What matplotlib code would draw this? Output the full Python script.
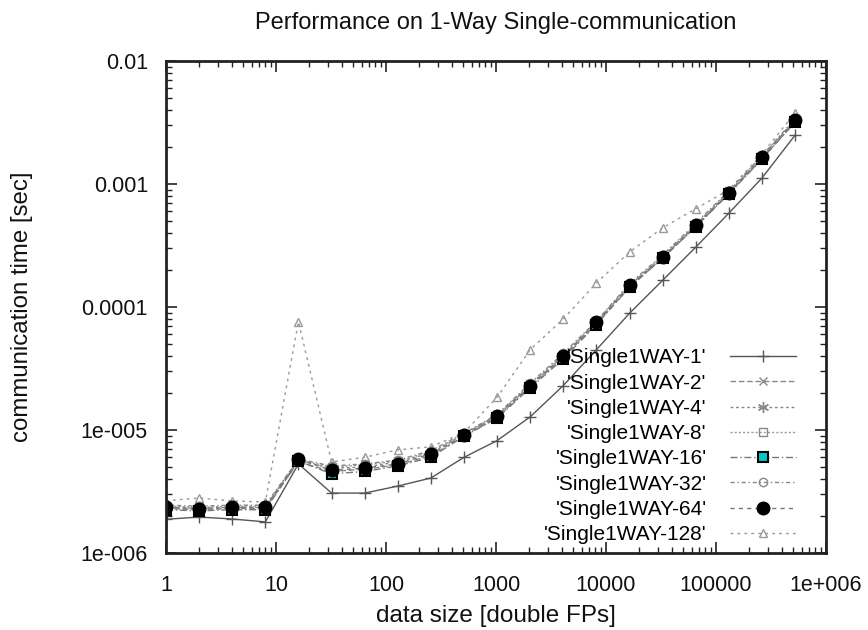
import matplotlib
matplotlib.use("Agg")
import matplotlib.pyplot as plt
from matplotlib.ticker import LogLocator, FixedLocator, FixedFormatter, NullFormatter

plt.rcParams['font.family'] = ['Liberation Sans', 'DejaVu Sans']

sizes = [1, 2, 4, 8, 16, 32, 64, 128, 256, 512, 1024, 2048, 4096, 8192,
         16384, 32768, 65536, 131072, 262144, 524288]

s1 = [1.88e-6, 1.96e-6, 1.89e-6, 1.79e-6, 5.3e-6, 3.07e-6, 3.07e-6, 3.5e-6, 4.07e-6, 6.0e-6,
      8.2e-6, 1.28e-5, 2.3e-5, 4.5e-5, 8.9e-5, 1.65e-4, 3.07e-4, 5.8e-4, 1.12e-3, 2.5e-3]
s2 = [2.3e-6, 2.25e-6, 2.3e-6, 2.3e-6, 5.5e-6, 4.6e-6, 4.8e-6, 5.2e-6, 6.2e-6, 8.9e-6,
      1.26e-5, 2.25e-5, 3.9e-5, 7.3e-5, 1.45e-4, 2.5e-4, 4.5e-4, 8.4e-4, 1.6e-3, 3.2e-3]
s4 = [2.35e-6, 2.3e-6, 2.35e-6, 2.35e-6, 5.6e-6, 4.9e-6, 5.0e-6, 5.5e-6, 6.5e-6, 9.2e-6,
      1.3e-5, 2.3e-5, 4.0e-5, 7.5e-5, 1.5e-4, 2.55e-4, 4.6e-4, 8.6e-4, 1.65e-3, 3.3e-3]
s8 = [2.4e-6, 2.35e-6, 2.4e-6, 2.4e-6, 5.7e-6, 5.0e-6, 5.2e-6, 5.6e-6, 6.6e-6, 9.3e-6,
      1.32e-5, 2.35e-5, 4.1e-5, 7.6e-5, 1.52e-4, 2.6e-4, 4.7e-4, 8.7e-4, 1.68e-3, 3.35e-3]
s16 = [2.25e-6, 2.2e-6, 2.25e-6, 2.25e-6, 5.6e-6, 4.4e-6, 4.6e-6, 5.1e-6, 6.0e-6, 8.9e-6,
       1.25e-5, 2.2e-5, 3.8e-5, 7.2e-5, 1.45e-4, 2.5e-4, 4.5e-4, 8.3e-4, 1.6e-3, 3.2e-3]
s32 = [2.45e-6, 2.4e-6, 2.45e-6, 2.45e-6, 5.8e-6, 5.1e-6, 5.3e-6, 5.7e-6, 6.8e-6, 9.4e-6,
       1.34e-5, 2.4e-5, 4.2e-5, 7.7e-5, 1.55e-4, 2.65e-4, 4.8e-4, 8.8e-4, 1.7e-3, 3.4e-3]
s64 = [2.35e-6, 2.3e-6, 2.35e-6, 2.35e-6, 5.8e-6, 4.7e-6, 4.9e-6, 5.3e-6, 6.4e-6, 9.1e-6,
       1.3e-5, 2.3e-5, 4.0e-5, 7.5e-5, 1.5e-4, 2.55e-4, 4.6e-4, 8.5e-4, 1.65e-3, 3.3e-3]
s128 = [2.66e-6, 2.8e-6, 2.65e-6, 2.6e-6, 7.6e-5, 5.5e-6, 6.0e-6, 6.9e-6, 7.3e-6, 9.5e-6,
        1.85e-5, 4.5e-5, 8.0e-5, 1.57e-4, 2.8e-4, 4.4e-4, 6.3e-4, 9.0e-4, 1.75e-3, 3.8e-3]

labels = ["'Single1WAY-1'", "'Single1WAY-2'", "'Single1WAY-4'", "'Single1WAY-8'",
          "'Single1WAY-16'", "'Single1WAY-32'", "'Single1WAY-64'", "'Single1WAY-128'"]

xticks = [1, 10, 100, 1000, 10000, 100000, 1000000]
xticklabels = ["1", "10", "100", "1000", "10000", "100000", "1e+006"]
yticks = [1e-6, 1e-5, 1e-4, 1e-3, 1e-2]
yticklabels = ["1e-006", "1e-005", "0.0001", "0.001", "0.01"]

styles = [
    dict(color='#555555', ls='-', marker='+', ms=8, mfc='none', mec='#555555', lw=1.0),
    dict(color='#888888', ls=(0, (4, 2)), marker='x', ms=6, mfc='none', mec='#888888', lw=1.0),
    dict(color='#888888', ls=(0, (2, 2)), marker=(6, 2, 0), ms=8, mfc='none', mec='#888888', lw=1.0),
    dict(color='#999999', ls=(0, (1.5, 1.5)), marker='s', ms=6, mfc='none', mec='#888888', lw=1.0),
    dict(color='#777777', ls=(0, (5, 2, 1, 2)), marker='s', ms=7, mfc='#00c8c8', mec='black', mew=1.5, lw=1.0),
    dict(color='#888888', ls=(0, (3, 2, 1, 2)), marker='o', ms=6, mfc='none', mec='#888888', lw=1.0),
    dict(color='#777777', ls=(0, (3, 3)), marker='o', ms=9, mfc='black', mec='black', lw=1.0),
    dict(color='#999999', ls=(0, (2, 3)), marker='^', ms=6, mfc='none', mec='#999999', lw=1.0),
]

series = [s1, s2, s4, s8, s16, s32, s64, s128]

fig = plt.figure(figsize=(8.68, 6.30), dpi=100)
ax = fig.add_axes([166/868, 1-553/630, 660/868, 492/630])

order = [7, 0, 1, 2, 3, 5, 4, 6]
handles = [None]*8
for i in order:
    h, = ax.plot(sizes, series[i], label=labels[i], **styles[i])
    handles[i] = h

ax.set_xscale('log')
ax.set_yscale('log')
ax.set_xlim(1, 1e6)
ax.set_ylim(1e-6, 1e-2)

ax.xaxis.set_major_locator(FixedLocator(xticks))
ax.xaxis.set_major_formatter(FixedFormatter(xticklabels))
ax.yaxis.set_major_locator(FixedLocator(yticks))
ax.yaxis.set_major_formatter(FixedFormatter(yticklabels))
ax.xaxis.set_minor_locator(LogLocator(base=10, subs=range(2, 10), numticks=20))
ax.yaxis.set_minor_locator(LogLocator(base=10, subs=range(2, 10), numticks=20))
ax.xaxis.set_minor_formatter(NullFormatter())
ax.yaxis.set_minor_formatter(NullFormatter())

ax.tick_params(which='both', direction='in', top=True, right=True, colors='#222222')
ax.tick_params(which='major', length=8, width=1.2, labelsize=15.5, labelcolor='#111111')
ax.tick_params(axis='y', which='major', pad=13)
ax.tick_params(axis='x', which='major', pad=16)
ax.tick_params(which='minor', length=4, width=1.0)
for sp in ax.spines.values():
    sp.set_linewidth(2.0)
    sp.set_color('#222222')

ax.set_title("Performance on 1-Way Single-communication", fontsize=17, pad=23, color='#111111')
ax.set_xlabel("data size [double FPs]", fontsize=17.5, labelpad=6, color='#111111')
ax.set_ylabel("communication time [sec]", fontsize=17.3, labelpad=34, color='#111111')

leg = ax.legend(handles=handles, labels=labels, loc='lower right', bbox_to_anchor=(0.955, 0.018),
                frameon=False, markerfirst=False, fontsize=15, handlelength=3.2,
                handletextpad=1.1, labelspacing=0.30, borderaxespad=0, borderpad=0)
try:
    for col in leg._legend_handle_box.get_children():
        col.align = 'right'
except Exception:
    pass

fig.savefig('out.png', dpi=100)
